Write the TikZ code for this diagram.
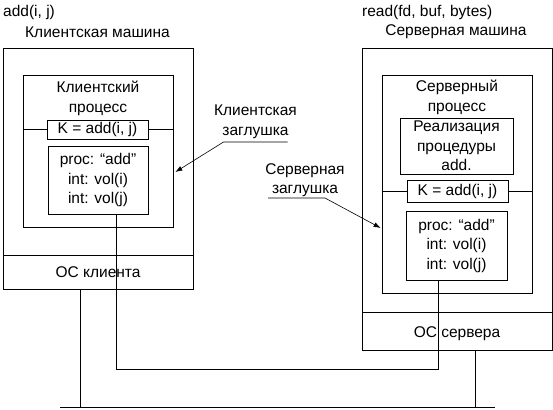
\documentclass[tikz,border=0pt]{standalone}
\usepackage{fontspec}
\setmainfont{Liberation Sans}
\usetikzlibrary{arrows.meta, positioning}

\begin{document}
\begin{tikzpicture}[
    x=1pt, y=-1pt,
    every node/.style={font=\fontsize{15.5}{19.5}\selectfont, inner sep=0pt, align=center},
    box/.style={draw, line width=0.8pt},
    wire/.style={line width=0.8pt},
    note/.style={-{Latex[length=7pt, width=5pt]}, line width=0.6pt},
]
\useasboundingbox (0,0) rectangle (553,409);

% === LEFT: client machine ===
\node[anchor=west] (ccall) at (3,12) {add(i, j)};
\node (ctitle) at (97.5,32) {Клиентская машина};

\node[box, minimum width=190, minimum height=241] (cm) at (98,168.5) {};
\node[box, minimum width=190, minimum height=34] (cos) at (98,272) {ОС клиента};
\node[box, minimum width=150, minimum height=152] (cp) at (98,151) {};
\node (cpname) at (98,98.5) {Клиентский\\процесс};
\node[box, fill=white, minimum width=101, minimum height=19] (ck) at (97.5,129.5) {K = add(i, j)};
\node[box, minimum width=100, minimum height=68] (cproc) at (98,180) {proc: “add”\\int: vol(i)\\int: vol(j)};

\draw[wire] (cp.west |- ck.center) -- (ck.west);
\draw[wire] (ck.east) -- (cp.east |- ck.center);

% === RIGHT: server machine ===
\node[anchor=west] (scall) at (362,12) {read(fd, buf, bytes)};
\node (stitle) at (456,32) {Серверная машина};

\node[box, minimum width=190, minimum height=302] (sm) at (457,199) {};
\node[box, minimum width=190, minimum height=38] (sos) at (457,331) {};
\node (sosname) at (457,333.5) {ОС сервера};
\node[box, minimum width=150, minimum height=218] (sp) at (457,184) {};
\node (spname) at (457,97.5) {Серверный\\процесс};
\node[box, minimum width=113, minimum height=56] (simpl) at (456.5,146) {Реализация\\процедуры\\add.};
\node[box, minimum width=101, minimum height=22] (sk) at (457.5,191) {K = add(i, j)};
\node[box, minimum width=101, minimum height=69] (sproc) at (456.5,245.5) {proc: “add”\\int: vol(i)\\int: vol(j)};

\draw[wire] (sp.west |- sk.center) -- (sk.west);
\draw[wire] (sk.east) -- (sp.east |- sk.center);

% === Stubs ===
\node (cnote) at (255.5,122) {Клиентская\\заглушка};
\draw[note] ([shift={(32,20)}]cnote.center) -- ([shift={(-32,20)}]cnote.center) -- ([xshift=2pt, yshift=-21pt]cp.east);

\node (snote) at (305,180) {Серверная\\заглушка};
\draw[note] ([shift={(-37,18)}]snote.center) -- ([shift={(20,18)}]snote.center) -- ([xshift=-1pt, yshift=-44pt]sp.west);

% === Wiring and network ===
\coordinate (cport) at ([xshift=18pt]cproc.south);
\coordinate (sport) at ([xshift=-18pt]sproc.south);
\draw[wire] (cport) -- ++(0,155) -| (sport);

\coordinate (busL) at (60,407);
\coordinate (busR) at (495,407);
\draw[wire] (busL) -- (busR);
\draw[wire] ([xshift=-18pt]cos.south) coordinate (cdrop) -- (cdrop |- busL);
\draw[wire] ([xshift=18pt]sos.south) coordinate (sdrop) -- (sdrop |- busL);

\end{tikzpicture}
\end{document}
